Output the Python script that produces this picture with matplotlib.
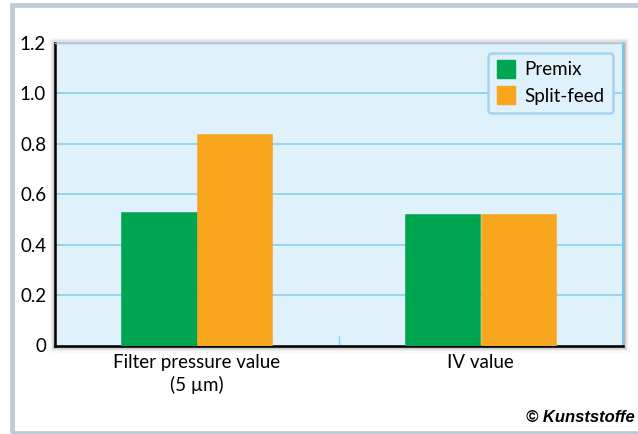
import matplotlib
matplotlib.use("Agg")
import matplotlib.pyplot as plt
from matplotlib.patches import Rectangle
from matplotlib.lines import Line2D
from matplotlib import font_manager
import numpy as np

categories = ["Filter pressure value\n(5 µm)", "IV value"]
series_names = ["Premix", "Split-feed"]
premix = [0.53, 0.52]
split_feed = [0.84, 0.52]
yticks = [0, 0.2, 0.4, 0.6, 0.8, 1.0, 1.2]
ytick_labels = ["0", "0.2", "0.4", "0.6", "0.8", "1.0", "1.2"]

GREEN = "#00a551"
ORANGE = "#f8a61e"
BG = "#dff1fb"
GRID = "#86d0f0"
FRAME = "#bccbd6"

avail = {f.name for f in font_manager.fontManager.ttflist}
main_font = "Lato" if "Lato" in avail else "DejaVu Sans"
cond_font = "Liberation Sans Narrow" if "Liberation Sans Narrow" in avail else "Liberation Sans"
plt.rcParams["font.family"] = [main_font, "DejaVu Sans"]

W, H = 638, 434
fig = plt.figure(figsize=(W / 100, H / 100), dpi=100)

def fx(px):
    return px / W

def fy(py):
    return 1 - py / H

# outer frame
fig.patches.append(Rectangle((fx(11.5), fy(432.5)), fx(700), (432.5 - 5.3) / H,
                             transform=fig.transFigure, fill=False,
                             edgecolor=FRAME, linewidth=3.4, zorder=-5))

L, R, T, B = 54.5, 622.5, 43, 345.5
ax = fig.add_axes([fx(L), fy(B), fx(R - L), (B - T) / H])

# soft shadow around plot area
for i, a in enumerate([0.12, 0.09, 0.06, 0.04, 0.025]):
    pad = 1.2 * (i + 1)
    fig.patches.append(Rectangle((fx(L - pad + 1), fy(B + pad + 1)),
                                 fx(R - L + 2 * pad), (B - T + 2 * pad) / H,
                                 transform=fig.transFigure, facecolor="black",
                                 edgecolor="none", alpha=a, zorder=-2))

ax.set_facecolor(BG)
x = np.arange(len(categories))
w = 0.265
ax.bar(x - w / 2, premix, width=w, color=GREEN, edgecolor=GREEN, linewidth=0.4,
       label=series_names[0], zorder=3)
ax.bar(x + w / 2, split_feed, width=w, color=ORANGE, edgecolor=ORANGE, linewidth=0.4,
       label=series_names[1], zorder=3)

ax.set_xlim(-0.5, 1.5)
ax.set_ylim(0, 1.2)
ax.set_yticks(yticks)
ax.set_yticklabels(ytick_labels)
ax.set_xticks(x)
ax.set_xticklabels(categories, linespacing=1.35)
ax.set_xticks([0.5], minor=True)
ax.tick_params(axis="x", which="major", length=0, pad=6, labelsize=13.5)
ax.tick_params(axis="x", which="minor", direction="in", length=7, width=1, color=GRID)
ax.tick_params(axis="y", length=0, pad=6, labelsize=13.5)

ax.grid(axis="y", color=GRID, linewidth=1.2, zorder=1)
ax.set_axisbelow(True)

ax.spines["left"].set_color("black")
ax.spines["left"].set_linewidth(1.8)
ax.spines["bottom"].set_color("black")
ax.spines["bottom"].set_linewidth(1.8)
ax.spines["top"].set_color("#a9c7dc")
ax.spines["top"].set_linewidth(1.0)
ax.spines["right"].set_color("#7cc4ea")
ax.spines["right"].set_linewidth(1.4)

handles = [Line2D([], [], marker="s", linestyle="none", markersize=13,
                  markerfacecolor=c, markeredgecolor=c) for c in (GREEN, ORANGE)]
leg = ax.legend(handles, series_names, loc="upper right",
                bbox_to_anchor=(fx(612.5), fy(53)), bbox_transform=fig.transFigure,
                borderaxespad=0, fontsize=13.5, frameon=True, fancybox=True,
                handlelength=1.0, handletextpad=0.45, borderpad=0.45,
                labelspacing=0.5, facecolor=BG, edgecolor="#a6d2f0", framealpha=1)
leg.get_frame().set_linewidth(1.8)

fig.text(fx(635), fy(418), "© Kunststoffe", ha="right", va="center",
         fontsize=12, fontweight="bold", fontstyle="italic",
         family=[cond_font, "DejaVu Sans"])

fig.savefig("out.png", dpi=100)
